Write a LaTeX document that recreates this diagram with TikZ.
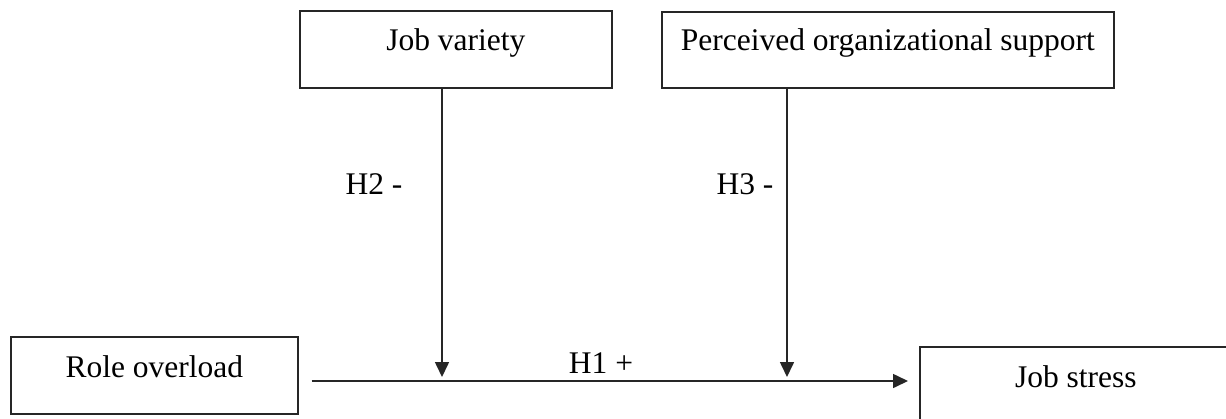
\documentclass[tikz,border=0pt]{standalone}
\usepackage{fontspec}
\setmainfont{Liberation Serif}
\usetikzlibrary{arrows.meta}
\begin{document}
\begin{tikzpicture}[x=1pt,y=1pt,
  font=\fontsize{31.5pt}{36pt}\selectfont,
  box/.style={draw=black!85, line width=1.7pt, rectangle, inner sep=0pt,
    text height=22pt, anchor=north west},
  lbl/.style={inner sep=0pt, anchor=base},
  arr/.style={draw=black!85, line width=1.6pt, -{Triangle[length=15pt,width=14pt]}}]
\useasboundingbox (0,0) rectangle (1226,-418);
\fill[white] (0,0) rectangle (1226,-418);
% boxes
\node[box, minimum width=312pt, minimum height=77pt, text depth=19pt] (jv) at (299,-10) {Job variety};
\node[box, minimum width=452pt, minimum height=76pt, text depth=20pt] (pos) at (661,-11) {Perceived organizational support};
\node[box, minimum width=287pt, minimum height=77pt, text depth=17pt] (ro) at (10,-336) {Role overload};
\node[box, minimum width=312pt, minimum height=77pt, text depth=17pt] (js) at (919,-346) {Job stress};
% helper coordinates
\coordinate (hline) at (0,-381);
\coordinate (m1) at (442,-381);
\coordinate (m2) at (787,-381);
% connectors
\draw[arr, shorten <=13pt, shorten >=11pt] (ro.east |- hline) -- (js.west |- hline);
\draw[arr] (jv.south -| m1) -- ([yshift=4pt]m1);
\draw[arr] (pos.south -| m2) -- ([yshift=4pt]m2);
% labels
\node[lbl] (h2) at (374,-194) {H2 -};
\node[lbl] (h3) at (745,-194) {H3 -};
\node[lbl] (h1) at (601,-373) {H1 +};
\end{tikzpicture}
\end{document}
